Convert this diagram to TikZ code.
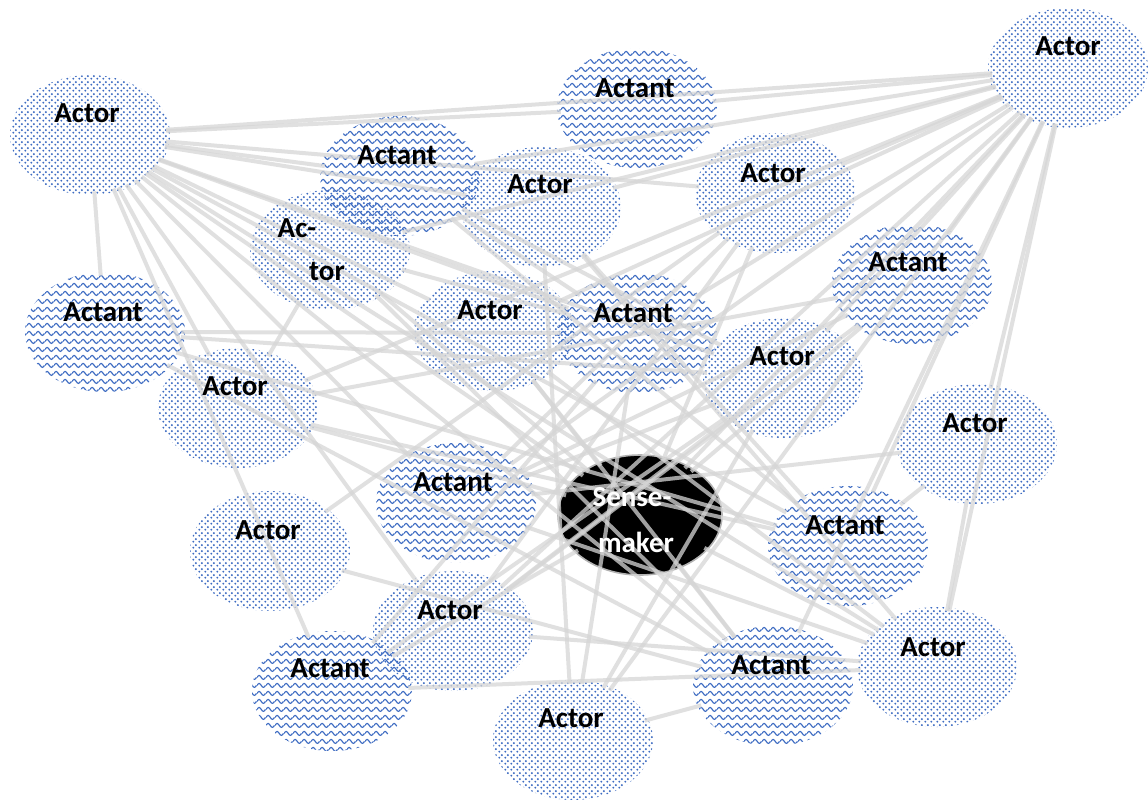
\documentclass[tikz,border=0pt]{standalone}
\usepackage{fontspec}
\setmainfont{Carlito}
\usetikzlibrary{shapes.geometric,patterns}

% staggered blue dots for actors
\pgfdeclarepatternformonly{dotgrid}{\pgfpoint{0pt}{0pt}}{\pgfpoint{3pt}{3pt}}{\pgfpoint{3pt}{3pt}}{%
  \pgfpathcircle{\pgfpoint{0.75pt}{0.75pt}}{0.6pt}%
  \pgfpathcircle{\pgfpoint{2.25pt}{2.25pt}}{0.6pt}%
  \pgfusepath{fill}}

% wavy lines for actants
\pgfdeclarepatternformonly{wavy}{\pgfpoint{0pt}{0pt}}{\pgfpoint{4.6pt}{4pt}}{\pgfpoint{4.6pt}{4pt}}{%
  \pgfsetlinewidth{0.65pt}%
  \pgfpathmoveto{\pgfpoint{0pt}{2pt}}%
  \pgfpathsine{\pgfpoint{1.15pt}{1.1pt}}%
  \pgfpathcosine{\pgfpoint{1.15pt}{-1.1pt}}%
  \pgfpathsine{\pgfpoint{1.15pt}{-1.1pt}}%
  \pgfpathcosine{\pgfpoint{1.15pt}{1.1pt}}%
  \pgfusepath{stroke}}

\definecolor{patblue}{RGB}{62,108,194}
\definecolor{linkgray}{RGB}{214,214,214}

\tikzset{
  blob/.style={ellipse, minimum width=80pt, minimum height=60pt, inner sep=0pt},
  actor/.style={blob, pattern=dotgrid, pattern color=patblue},
  actant/.style={blob, pattern=wavy, pattern color=patblue},
  sense/.style={blob, fill=black, draw=gray!60, line width=0.8pt, minimum width=82pt},
  lbl/.style={font=\bfseries\fontsize{14.5}{16}\selectfont, inner sep=0pt},
  wlbl/.style={lbl, text=white},
  link/.style={draw=linkgray, line width=2pt, opacity=0.75, shorten <=-2pt, shorten >=-2pt}
}

\begin{document}
\begin{tikzpicture}[x=0.5pt, y=-0.5pt]
\useasboundingbox (0,0) rectangle (1148,800);
\fill[white] (0,0) rectangle (1148,800);

% ellipses
\node[actor]  (tl)  at (90,135)  {};
\node[actant] (tc)  at (637,108) {};
\node[actor]  (tr)  at (1068,68) {};
\node[actant] (n4)  at (400,176) {};
\node[actor]  (n5)  at (541,207) {};
\node[actor]  (n6)  at (775,193) {};
\node[actor]  (n7)  at (330,250) {};
\node[actant] (n8)  at (105,332) {};
\node[actant] (n9)  at (912,284) {};
\node[actor]  (n10) at (494,331) {};
\node[actant] (n11) at (637,333) {};
\node[actor]  (n12) at (783,378) {};
\node[actor]  (n13) at (238,408) {};
\node[actor]  (n14) at (977,444) {};
\node[actant] (n15) at (456,503) {};
\node[sense]  (sm)  at (640,515) {};
\node[actant] (n17) at (848,546) {};
\node[actor]  (n18) at (270,551) {};
\node[actor]  (n19) at (453,631) {};
\node[actant] (n20) at (332,691) {};
\node[actant] (n21) at (773,686) {};
\node[actor]  (n22) at (937,667) {};
\node[actor]  (n23) at (573,740) {};

% connectors
\foreach \a/\b in {
  tl/tr, tl/tc, tl/n4, tl/n5, tl/n6, tl/n12, tl/n8, tl/n13, tl/n20,
  tl/n19, tl/n15, tl/sm, tl/n17, tl/n22, tl/n21, tl/n10, tl/n11,
  tr/tc, tr/n4, tr/n5, tr/n6, tr/n7, tr/n10, tr/n11, tr/n12, tr/n9, tr/sm,
  tr/n15, tr/n17, tr/n14, tr/n22, tr/n21, tr/n19, tr/n23, tr/n13,
  n4/n12, n4/n17, n4/n11, n7/sm, n7/n11, n7/n21, n8/n12, n8/n11, n8/n17,
  n13/n9, n10/n22, n10/n21, n11/n20, n12/n20, n12/n19,
  n6/n18, n6/n19, n6/n15, n5/n22, n5/n23, n5/n17, n9/n19, n9/n15,
  n14/n15, n17/n13, n15/n22, n18/n21, n21/n23, n20/n22, n19/n22,
  n17/n14, n12/n23, sm/n22, sm/n13, sm/n9, sm/n20, sm/n6, n10/sm, n14/n22,
  n15/n12, n23/n11, n7/n13, sm/n21, n8/n21}
  \draw[link] (\a) -- (\b);

% labels
\node[lbl] (tlT)  at (87,113)  {Actor};
\node[lbl] (tcT)  at (635,88)  {Actant};
\node[lbl] (trT)  at (1068,46) {Actor};
\node[lbl] (n4T)  at (397,155) {Actant};
\node[lbl] (n5T)  at (540,184) {Actor};
\node[lbl] (n6T)  at (773,173) {Actor};
\node[lbl] (n7Ta) at (297,228) {Ac-};
\node[lbl] (n7Tb) at (327,271) {tor};
\node[lbl] (n8T)  at (103,312) {Actant};
\node[lbl] (n9T)  at (908,262) {Actant};
\node[lbl] (n10T) at (490,310) {Actor};
\node[lbl] (n11T) at (633,313) {Actant};
\node[lbl] (n12T) at (782,356) {Actor};
\node[lbl] (n13T) at (235,386) {Actor};
\node[lbl] (n14T) at (975,423) {Actor};
\node[lbl] (n15T) at (453,482) {Actant};
\node[wlbl] (smTa) at (632,497) {Sense-};
\node[wlbl] (smTb) at (636,542) {maker};
\node[lbl] (n17T) at (845,525) {Actant};
\node[lbl] (n18T) at (268,530) {Actor};
\node[lbl] (n19T) at (450,610) {Actor};
\node[lbl] (n20T) at (330,668) {Actant};
\node[lbl] (n21T) at (771,665) {Actant};
\node[lbl] (n22T) at (933,647) {Actor};
\node[lbl] (n23T) at (571,718) {Actor};
\end{tikzpicture}
\end{document}
